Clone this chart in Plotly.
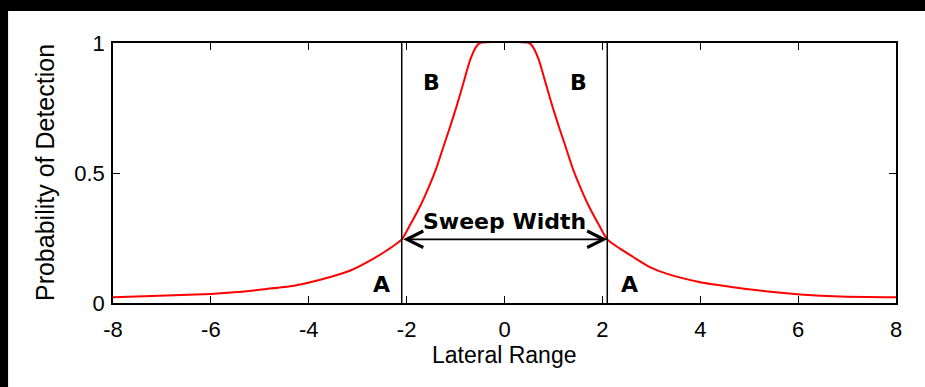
import plotly.graph_objects as go

# ---- data ----
lateral_range = [-8.0, -6.9, -6.0, -5.46, -5.0, -4.38, -3.97, -3.56, -3.15, -2.74, -2.4, -2.1,
                 -1.93, -1.73, -1.55, -1.4, -1.25, -1.11, -0.98, -0.84, -0.70, -0.57, -0.5,
                 0.5, 0.57, 0.70, 0.84, 0.98, 1.11, 1.25, 1.4, 1.55, 1.73, 1.93, 2.1,
                 2.36, 2.63, 2.97, 3.31, 4.0, 4.67, 5.49, 6.04, 6.86, 8.0]
prob_detection = [0.022, 0.029, 0.035, 0.042, 0.051, 0.064, 0.080, 0.100, 0.125, 0.164, 0.203, 0.245,
                  0.300, 0.370, 0.445, 0.515, 0.600, 0.679, 0.756, 0.846, 0.936, 0.988, 1.0,
                  1.0, 0.988, 0.936, 0.846, 0.756, 0.679, 0.600, 0.515, 0.445, 0.370, 0.300, 0.245,
                  0.209, 0.177, 0.138, 0.113, 0.080, 0.061, 0.042, 0.033, 0.025, 0.022]
sweep_half_width = 2.1
sweep_level = 0.245
x_ticks = [-8, -6, -4, -2, 0, 2, 4, 6, 8]
x_tick_labels = ["-8", "-6", "-4", "-2", "0", "2", "4", "6", "8"]
y_ticks = [0, 0.5, 1]
y_tick_labels = ["0", "0.5", "1"]
region_labels = ["A", "B", "B", "A"]
region_label_x = [-2.51, -1.49, 1.51, 2.56]
region_label_y = [0.073, 0.848, 0.848, 0.073]

fig = go.Figure()
fig.add_trace(go.Scatter(x=lateral_range, y=prob_detection, mode="lines",
                         line=dict(color="#ff0000", width=2, shape="spline", smoothing=0.6),
                         showlegend=False, hoverinfo="skip", cliponaxis=True))

# sweep-width boundary lines
for xv in (-sweep_half_width, sweep_half_width):
    fig.add_trace(go.Scatter(x=[xv, xv], y=[0, 1], mode="lines",
                             line=dict(color="black", width=1.5), showlegend=False, hoverinfo="skip"))

# double-headed arrow
fig.add_annotation(x=sweep_half_width, y=sweep_level, ax=-sweep_half_width, ay=sweep_level,
                   xref="x", yref="y", axref="x", ayref="y", text="", showarrow=True,
                   arrowhead=5, startarrowhead=5, arrowside="end+start", arrowsize=1.8,
                   startarrowsize=1.8, arrowwidth=1.8, arrowcolor="black")
fig.add_annotation(x=0, y=0.312, xref="x", yref="y", text="<b>Sweep Width</b>", showarrow=False,
                   xanchor="center", yanchor="middle",
                   font=dict(family="DejaVu Sans", size=22, color="black"))
for t, xv, yv in zip(region_labels, region_label_x, region_label_y):
    fig.add_annotation(x=xv, y=yv, xref="x", yref="y", text="<b>%s</b>" % t, showarrow=False,
                       xanchor="center", yanchor="middle",
                       font=dict(family="DejaVu Sans", size=22, color="black"))

# axis titles
fig.add_annotation(x=-0.0868, y=0.5, xref="paper", yref="paper", text="Probability of Detection",
                   textangle=-90, showarrow=False, xanchor="center", yanchor="middle",
                   font=dict(family="Liberation Sans", size=25, color="black"))
fig.add_annotation(x=0.5, y=-0.2, xref="paper", yref="paper", text="Lateral Range",
                   showarrow=False, xanchor="center", yanchor="middle",
                   font=dict(family="Liberation Sans", size=23, color="black"))

# white panel on black background
fig.add_shape(type="rect", xref="paper", yref="paper", x0=-0.134, x1=1.05, y0=-0.5, y1=1.123,
              fillcolor="white", line=dict(width=0), layer="below")

axis_common = dict(showline=True, linecolor="black", linewidth=1.5, mirror="allticks",
                   ticks="inside", ticklen=7, tickwidth=1.2, tickcolor="black",
                   showgrid=False, zeroline=False,
                   tickfont=dict(family="Liberation Sans", size=22, color="black"))
fig.update_xaxes(range=[-8, 8], tickvals=x_ticks, ticktext=x_tick_labels, ticklabelstandoff=6,
                 **axis_common)
fig.update_yaxes(range=[0, 1], tickvals=y_ticks, ticktext=y_tick_labels, ticklabelstandoff=2,
                 **axis_common)

fig.update_layout(width=925, height=387, margin=dict(l=113, r=29, t=43, b=84),
                  paper_bgcolor="black", plot_bgcolor="white", showlegend=False)
fig.write_html("out.html", config={"displayModeBar": False},
               post_script="document.body.style.margin='0';document.body.style.background='black';"
                           "document.body.style.overflow='hidden';")
